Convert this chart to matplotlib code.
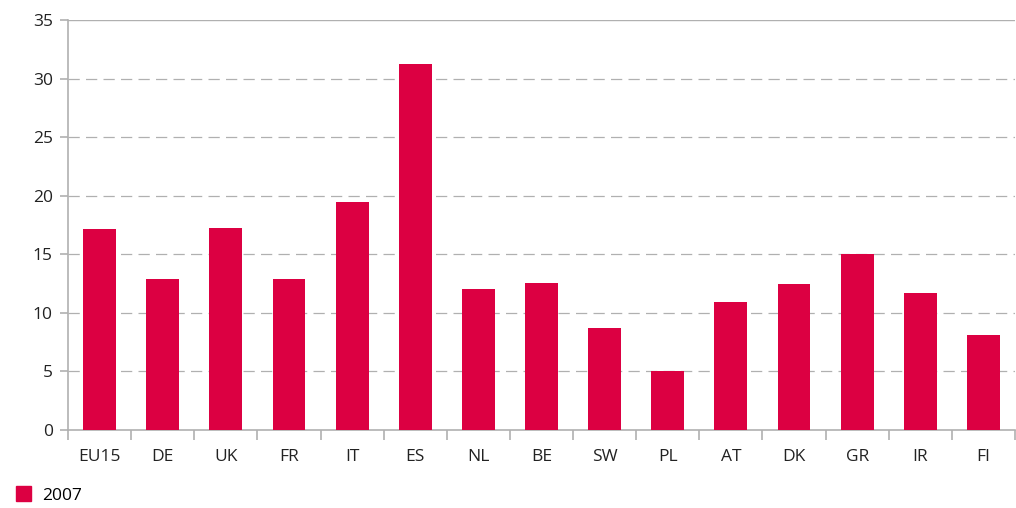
import matplotlib.pyplot as plt
from matplotlib.patches import Patch

categories = ["EU15", "DE", "UK", "FR", "IT", "ES", "NL", "BE", "SW", "PL",
              "AT", "DK", "GR", "IR", "FI"]
values_2007 = [17.15, 12.9, 17.25, 12.9, 19.45, 31.25, 12.05, 12.55, 8.7, 5.05,
               10.95, 12.45, 15.0, 11.7, 8.1]
yticks = [0, 5, 10, 15, 20, 25, 30, 35]

red = "#DC0042"
grey = "#B0B0B0"
plt.rcParams['font.family'] = ['Open Sans', 'DejaVu Sans']

fig = plt.figure(figsize=(10.16, 5.08), dpi=100)
ax = fig.add_axes([68/1016, 1 - 430/508, 947/1016, 410/508])

x = list(range(len(categories)))
ax.bar(x, values_2007, width=0.52, color=red, zorder=3)

ax.set_xlim(-0.5, len(categories) - 0.5)
ax.set_ylim(0, 35)
ax.set_yticks(yticks)
ax.set_yticklabels([str(t) for t in yticks], fontsize=12.5, color="#222222")
for t in yticks[1:-1]:
    ax.axhline(t, color=grey, lw=0.9, ls=(0, (9, 5)), zorder=1)
ax.axhline(35, color=grey, lw=1.0, zorder=1)

ax.set_xticks(x)
ax.set_xticklabels(categories, fontsize=12.5, color="#222222")
ax.tick_params(axis='x', length=0, pad=14)
ax.set_xticks([i - 0.5 for i in range(len(categories) + 1)], minor=True)
ax.tick_params(axis='x', which='minor', length=7, color=grey, width=1.2)
ax.tick_params(axis='y', length=6, color=grey, width=1.2, pad=5)

for s in ["top", "right"]:
    ax.spines[s].set_visible(False)
for s in ["left", "bottom"]:
    ax.spines[s].set_color(grey)
    ax.spines[s].set_linewidth(1.2)

fig.legend(handles=[Patch(color=red, label="2007")], loc="lower left",
           bbox_to_anchor=(0.0, -0.022), frameon=False, fontsize=12.5,
           handlelength=0.9, handleheight=0.9, handletextpad=0.6)

fig.savefig("out.png", dpi=100)
